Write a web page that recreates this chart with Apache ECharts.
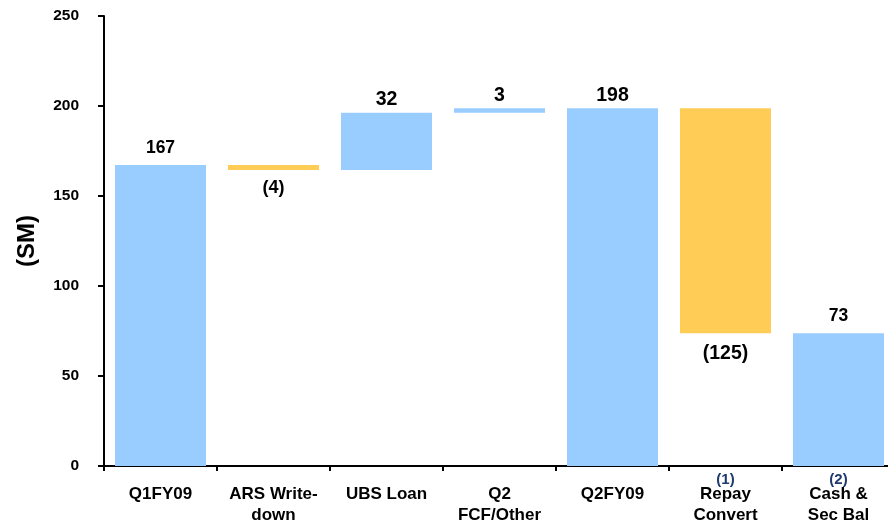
<!DOCTYPE html>
<html>
<head>
<meta charset="utf-8">
<script src="https://cdn.jsdelivr.net/npm/echarts@6/dist/echarts.min.js"></script>
<style>
  html, body { margin: 0; padding: 0; background: #ffffff; overflow: hidden; }
  /* plot runs a few px past the right edge of the window, as in the source */
  #chart { width: 895px; height: 529px; }
</style>
</head>
<body>
<div id="chart"></div>
<script>
const categories = ['Q1FY09', 'ARS Write-\ndown', 'UBS Loan', 'Q2\nFCF/Other', 'Q2FY09', 'Repay\nConvert', 'Cash &\nSec Bal']
const notes = ['', '', '', '', '', '(1)', '(2)']
// step sizes as drawn (labels are the rounded figures); totals are full bars from zero
const changes = [167.2, -2.8, 31.9, 2.4, 198.7, -124.9, 73.8]
const valueLabels = ['167', '(4)', '32', '3', '198', '(125)', '73']
const isTotal = [true, false, false, false, true, false, true]
const yTicks = [0, 50, 100, 150, 200, 250]

// running level -> invisible base, rise and fall series
const base = []
const rise = []
const fall = []
let level = 0
changes.forEach((v, i) => {
  if (isTotal[i]) {
    level = v
    base.push(0); rise.push(v); fall.push('-')
  } else if (v >= 0) {
    base.push(level); rise.push(v); fall.push('-')
    level += v
  } else {
    level += v
    base.push(level); rise.push('-'); fall.push(-v)
  }
})

const FONT = "'Liberation Sans', Arial, sans-serif"
const bigLabel = [false, false, true, true, true, true, false]

const chart = echarts.init(document.getElementById('chart'))
chart.setOption({
  animation: false,
  grid: { left: 104, top: 16, right: 0, bottom: 63 },
  xAxis: {
    type: 'category',
    data: categories,
    axisLine: { lineStyle: { color: '#000', width: 2 } },
    axisTick: { show: true, length: 5, lineStyle: { color: '#000', width: 2 } },
    axisLabel: {
      interval: 0,
      margin: 9,
      formatter: (val, idx) => '{n|' + (notes[idx] || ' ') + '}\n' +
        val.split('\n').map(s => '{b|' + s + '}').join('\n'),
      rich: {
        n: { color: '#1f3a6e', fontSize: 15, fontWeight: 'bold', fontFamily: FONT, lineHeight: 9 },
        b: { color: '#000', fontSize: 17, fontWeight: 'bold', fontFamily: FONT, lineHeight: 21 }
      }
    }
  },
  yAxis: {
    type: 'value',
    min: 0,
    max: 250,
    interval: 50,
    name: '(SM)',
    nameLocation: 'middle',
    nameRotate: 90,
    nameGap: 65,
    nameTextStyle: { color: '#000', fontSize: 24, fontWeight: 'bold', fontFamily: FONT },
    axisLine: { show: true, lineStyle: { color: '#000', width: 2 } },
    axisTick: { show: true, length: 6, lineStyle: { color: '#000', width: 2 } },
    splitLine: { show: false },
    axisLabel: {
      margin: 25,
      color: '#000',
      fontSize: 15.5,
      fontWeight: 'bold',
      fontFamily: FONT,
      formatter: v => yTicks.includes(v) ? String(v) : ''
    }
  },
  series: [
    {
      type: 'bar',
      stack: 'w',
      data: base,
      barCategoryGap: '19.5%',
      itemStyle: { color: 'transparent' },
      silent: true
    },
    {
      type: 'bar',
      stack: 'w',
      data: rise.map((v, i) => v === '-' ? v : {
        value: v,
        label: {
          show: true,
          position: 'top',
          distance: bigLabel[i] ? 3 : 8,
          fontSize: bigLabel[i] ? 19.5 : 17.5,
          fontWeight: 'bold',
          fontFamily: FONT,
          color: '#000',
          formatter: () => valueLabels[i]
        }
      }),
      itemStyle: { color: '#99ccff' }
    },
    {
      type: 'bar',
      stack: 'w',
      data: fall.map((v, i) => v === '-' ? v : {
        value: v,
        label: {
          show: true,
          position: 'bottom',
          distance: bigLabel[i] ? 10 : 9,
          fontSize: bigLabel[i] ? 19.5 : 18,
          fontWeight: 'bold',
          fontFamily: FONT,
          color: '#000',
          formatter: () => valueLabels[i]
        }
      }),
      itemStyle: { color: '#ffcc55' }
    }
  ]
})
</script>
</body>
</html>
